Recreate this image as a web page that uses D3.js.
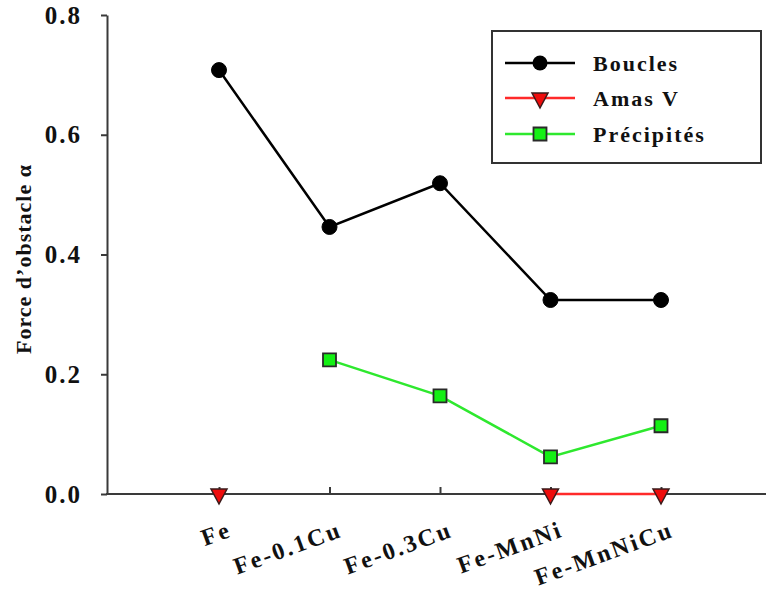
<!DOCTYPE html>
<html><head><meta charset="utf-8">
<script src="https://cdn.jsdelivr.net/npm/d3@7"></script>
<style>
html,body{margin:0;padding:0;background:#fff;}
text{font-family:"Liberation Serif","Times New Roman",serif;font-weight:bold;fill:#111;}
</style></head>
<body>
<svg id="chart" width="766" height="590"></svg>
<script>
const categories = ["Fe", "Fe-0.1Cu", "Fe-0.3Cu", "Fe-MnNi", "Fe-MnNiCu"];
const boucles = [0.708, 0.446, 0.519, 0.324, 0.324];
const amasV = [0, null, null, 0, 0];
const precipites = [null, 0.224, 0.164, 0.062, 0.114];
const yTicks = [0.0, 0.2, 0.4, 0.6, 0.8];
const seriesNames = ["Boucles", "Amas V", "Précipités"];

const svg = d3.select("#chart");
const x = d3.scalePoint().domain(categories).range([219, 661]);
const y = d3.scaleLinear().domain([0, 0.8]).range([494, 15]);
const axisColor = "#3a3a3a";

// y axis
const gy = svg.append("g").attr("transform", "translate(107,0)")
  .call(d3.axisLeft(y).tickValues(yTicks).tickFormat(d3.format(".1f")).tickSizeInner(6).tickSizeOuter(0).tickPadding(19));
gy.select(".domain").attr("stroke", axisColor).attr("stroke-width", 2);
gy.selectAll(".tick line").attr("stroke", axisColor).attr("stroke-width", 2);
gy.selectAll(".tick text").attr("font-size", 25).attr("letter-spacing", "2px")
  .attr("font-family", "Liberation Serif").attr("font-weight", "bold").attr("fill", "#111");

// x axis (ticks pointing inward)
const gx = svg.append("g").attr("transform", "translate(0,494)")
  .call(d3.axisBottom(x).tickSizeInner(-7).tickSizeOuter(0).tickFormat(""));
gx.select(".domain").remove();
gx.selectAll(".tick line").attr("stroke", axisColor).attr("stroke-width", 2);
svg.append("line").attr("x1", 106).attr("x2", 766).attr("y1", y(0)).attr("y2", y(0))
  .attr("stroke", axisColor).attr("stroke-width", 2);

// x labels rotated
svg.append("g").selectAll("text").data(categories).join("text")
  .attr("transform", d => `translate(${x(d) + 14},536) rotate(-20)`)
  .attr("text-anchor", "end").attr("font-size", 24).attr("letter-spacing", "2.4px")
  .text(d => d);

// y title
svg.append("text").attr("transform", "translate(31,259) rotate(-90)")
  .attr("text-anchor", "middle").attr("font-size", 22).attr("letter-spacing", "1px")
  .text("Force d’obstacle α");

function lineFor(vals) {
  return d3.line().defined(d => d != null).x((d, i) => x(categories[i])).y(d => y(d))(vals);
}

const colors = {b: "#000000", a: "#ff2a2a", p: "#2ee82e"};

// lines
svg.append("path").attr("d", lineFor(boucles)).attr("fill", "none").attr("stroke", colors.b).attr("stroke-width", 2.5);
svg.append("path").attr("d", lineFor(precipites)).attr("fill", "none").attr("stroke", colors.p).attr("stroke-width", 2.5);
svg.append("path").attr("d", lineFor(amasV)).attr("fill", "none").attr("stroke", colors.a).attr("stroke-width", 2.5);

const circleSym = d3.symbol().type(d3.symbolCircle).size(Math.PI * 7.5 * 7.5);
const squareSym = d3.symbol().type(d3.symbolSquare).size(13 * 13);
function triPath(cx, cy) {
  return `M${cx - 8},${cy - 5}L${cx + 8},${cy - 5}L${cx},${cy + 10}Z`;
}

// markers
svg.append("g").selectAll("path").data(boucles.map((v, i) => [i, v]).filter(d => d[1] != null)).join("path")
  .attr("d", circleSym).attr("transform", d => `translate(${x(categories[d[0]])},${y(d[1])})`)
  .attr("fill", "#000").attr("stroke", "#000").attr("stroke-width", 1);
svg.append("g").selectAll("path").data(precipites.map((v, i) => [i, v]).filter(d => d[1] != null)).join("path")
  .attr("d", squareSym).attr("transform", d => `translate(${x(categories[d[0]])},${y(d[1])})`)
  .attr("fill", "#14f014").attr("stroke", "#2a2a2a").attr("stroke-width", 1.8);
svg.append("g").selectAll("path").data(amasV.map((v, i) => [i, v]).filter(d => d[1] != null)).join("path")
  .attr("d", d => triPath(x(categories[d[0]]), y(d[1])))
  .attr("fill", "#ee0c0c").attr("stroke", "#3a1a1a").attr("stroke-width", 1.5);

// legend
const lg = svg.append("g");
lg.append("rect").attr("x", 492).attr("y", 31).attr("width", 269).attr("height", 132)
  .attr("fill", "#fff").attr("stroke", "#333").attr("stroke-width", 2);
const rows = [63, 98, 134];
const legColors = [colors.b, colors.a, colors.p];
seriesNames.forEach((name, i) => {
  const yy = rows[i];
  lg.append("line").attr("x1", 505).attr("x2", 575).attr("y1", yy).attr("y2", yy)
    .attr("stroke", legColors[i]).attr("stroke-width", 2.5);
  if (i === 0) lg.append("path").attr("d", circleSym).attr("transform", `translate(540,${yy})`).attr("fill", "#000");
  if (i === 1) lg.append("path").attr("d", triPath(540, yy)).attr("fill", "#ee0c0c").attr("stroke", "#3a1a1a").attr("stroke-width", 1.5);
  if (i === 2) lg.append("path").attr("d", squareSym).attr("transform", `translate(540,${yy})`).attr("fill", "#14f014").attr("stroke", "#2a2a2a").attr("stroke-width", 1.8);
  lg.append("text").attr("x", 593).attr("y", yy).attr("dy", "0.35em")
    .attr("font-size", 22).attr("letter-spacing", "2px").text(name);
});
</script>
</body></html>
